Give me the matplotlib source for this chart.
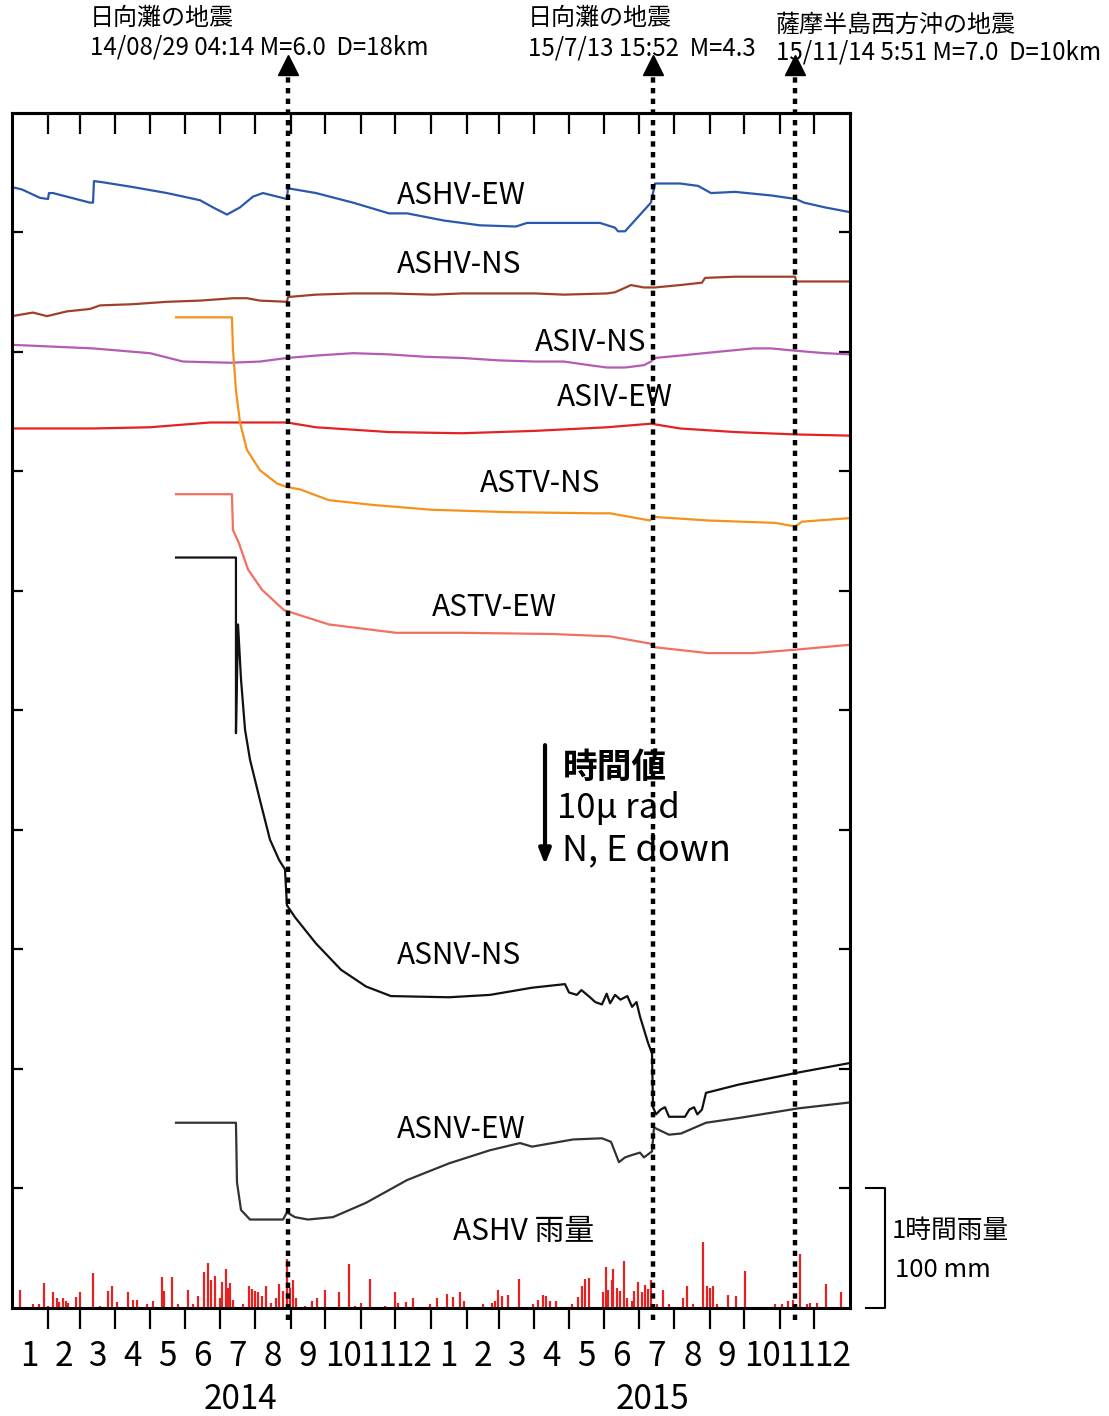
import numpy as np
import matplotlib
matplotlib.use("Agg")
import matplotlib.pyplot as plt

plt.rcParams['font.family'] = ['Noto Sans CJK JP', 'DejaVu Sans']

# x: days since 2014-01-01, y: tilt in micro-rad (offset per trace)
MONTH_DAYS = [31, 28, 31, 30, 31, 30, 31, 31, 30, 31, 30, 31] * 2
MONTH_LABELS = [str(m) for m in range(1, 13)] * 2
YEARS = ["2014", "2015"]
YEAR_DAYS = [198.6, 557.5]

QUAKE_DAYS = [240.2, 558.7, 682.2]
QUAKE_TITLES = ["日向灘の地震", "日向灘の地震", "薩摩半島西方沖の地震"]
QUAKE_INFO = ["14/08/29 04:14 M=6.0  D=18km",
              "15/7/13 15:52  M=4.3",
              "15/11/14 5:51 M=7.0  D=10km"]

ashv_ew_d = [0, 8.7, 24.4, 31.4, 32.2, 35.7, 67.9, 70.6, 71.4, 79.3, 105.4, 135.0, 163.8, 175.1, 187.3,
             198.6, 209.9, 218.6, 239.5, 240.4, 264.8, 297.0, 328.4, 344.1, 376.3, 407.7, 439.0, 448.6,
             486.9, 512.2, 525.3, 527.9, 534.0, 556.6, 560.1, 581.9, 597.6, 608.9, 629.8, 661.2, 683.0,
             689.9, 708.2, 730]
ashv_ew_v = [93.8, 93.6, 92.9, 92.8, 93.3, 93.3, 92.5, 92.5, 94.3, 94.2, 93.8, 93.3, 92.7, 92.1, 91.5,
             92.1, 93.0, 93.3, 92.8, 93.7, 93.3, 92.5, 91.6, 91.6, 91.0, 90.6, 90.5, 90.8,
             90.8, 90.8, 90.4, 90.1, 90.1, 92.5, 94.1, 94.1, 93.9, 93.3, 93.4, 93.1, 92.8,
             92.5, 92.1, 91.7]

ashv_ns_d = [0, 18.3, 30.5, 47.9, 67.9, 76.7, 105.4, 135.0, 163.8, 192.5, 204.7, 216.0, 239.5, 240.4,
             264.8, 297.0, 328.4, 366.7, 392.0, 423.4, 455.6, 480.8, 518.3, 525.3, 539.2, 550.5, 560.1,
             581.9, 601.0, 603.7, 629.8, 661.2, 682.1, 683.0, 708.2, 730]
ashv_ns_v = [83.0, 83.3, 83.0, 83.4, 83.6, 83.9, 84.0, 84.2, 84.3, 84.5, 84.5, 84.3, 84.2, 84.6,
             84.8, 84.9, 84.9, 84.8, 84.9, 84.9, 84.9, 84.8, 84.9, 85.0, 85.6, 85.4, 85.4,
             85.6, 85.8, 86.2, 86.3, 86.3, 86.3, 85.9, 85.9, 85.9]

asiv_ns_d = [0, 70.6, 120.2, 149.0, 189.9, 216.0, 239.5, 264.8, 297.0, 328.4, 359.8, 392.0, 423.4, 455.6,
             480.8, 502.6, 518.3, 534.0, 550.5, 556.6, 560.1, 581.9, 613.2, 645.5, 661.2, 683.0, 708.2, 730]
asiv_ns_v = [80.6, 80.3, 79.9, 79.2, 79.1, 79.2, 79.5, 79.7, 79.9, 79.8, 79.6, 79.5, 79.3, 79.2,
             79.2, 78.9, 78.7, 78.7, 78.9, 79.2, 79.5, 79.7, 80.0, 80.3, 80.3, 80.1, 79.9, 79.8]

asiv_ew_d = [0, 70.6, 120.2, 172.5, 198.6, 239.5, 264.8, 328.4, 392.0, 455.6, 518.3, 556.6, 581.9,
             629.8, 683.0, 730]
asiv_ew_v = [73.6, 73.6, 73.7, 74.1, 74.1, 74.1, 73.7, 73.3, 73.2, 73.4, 73.7, 74.0, 73.6,
             73.3, 73.1, 73.0]

astv_ns_d = [142.9, 191.6, 192.5, 195.1, 198.6, 204.7, 216.0, 230.8, 239.5, 250.9, 276.1, 314.5, 365.0,
             431.2, 508.7, 520.9, 555.7, 559.2, 606.3, 664.6, 682.1, 688.2, 730]
astv_ns_v = [82.9, 82.9, 80.2, 76.8, 74.1, 71.8, 70.1, 69.0, 68.7, 68.5, 67.6, 67.2, 66.8,
             66.6, 66.5, 66.5, 65.9, 66.2, 65.9, 65.7, 65.4, 65.8, 66.1]

astv_ew_d = [142.9, 191.6, 192.5, 197.7, 205.6, 217.8, 236.9, 276.1, 334.5, 392.0, 470.4, 520.9, 555.7,
             559.2, 606.3, 645.5, 683.8, 730]
astv_ew_v = [68.1, 68.1, 65.1, 64.0, 61.8, 60.1, 58.4, 57.2, 56.5, 56.5, 56.4, 56.2, 55.6,
             55.3, 54.8, 54.8, 55.1, 55.5]

asnv_ns_d = [142.9, 195.1, 195.1, 196.9, 199.5, 203.0, 207.3, 216.0, 224.7, 232.6, 237.8, 239.5, 246.5,
             264.8, 286.6, 308.4, 330.1, 380.7, 416.4, 453.0, 481.7, 485.2, 492.0, 496.0, 503.5, 508.0,
             513.9, 518.0, 521.0, 525.3, 530.0, 536.0, 540.1, 544.0, 547.0, 554.0, 557.5, 558.4, 561.0,
             565.0, 568.8, 572.3, 586.2, 590.0, 594.1, 597.0, 601.0, 604.5, 633.3, 684.7, 730]
asnv_ns_v = [62.8, 62.8, 48.1, 57.2, 52.6, 48.4, 45.9, 42.5, 39.2, 37.5, 36.7, 33.7, 32.7,
             30.5, 28.3, 26.9, 26.1, 26.0, 26.2, 26.8, 27.1, 26.4, 26.2, 26.6, 26.0, 25.6,
             25.4, 26.3, 25.5, 26.2, 25.8, 26.1, 25.2, 25.6, 24.4, 22.2, 21.3, 16.8, 16.2,
             16.6, 16.8, 16.0, 16.0, 16.6, 16.8, 16.2, 16.6, 18.0, 18.7, 19.7, 20.5]

asnv_ew_d = [142.9, 195.1, 196.0, 199.5, 207.3, 236.1, 239.5, 246.5, 257.8, 279.6, 308.4, 344.1, 380.7,
             416.4, 442.5, 453.0, 488.7, 513.9, 521.8, 528.7, 534.0, 540.1, 547.0, 550.5, 557.5, 559.2,
             572.3, 582.8, 604.5, 633.3, 684.7, 730]
asnv_ew_v = [15.5, 15.5, 10.5, 8.2, 7.4, 7.4, 8.0, 7.6, 7.4, 7.6, 8.8, 10.7, 12.1,
             13.2, 13.8, 13.5, 14.1, 14.2, 13.9, 12.2, 12.6, 12.8, 13.0, 12.6, 13.1, 15.1,
             14.5, 14.6, 15.5, 15.9, 16.7, 17.2]

# hourly rainfall (mm)
rain_d = [7.0, 18.3, 23.5, 27.9, 31.4, 35.7, 39.2, 40.9, 44.4, 47.0, 48.8, 55.7, 59.2, 70.6, 76.7, 83.6,
          87.1, 91.5, 101.0, 105.4, 108.9, 117.6, 122.8, 130.7, 132.4, 139.4, 144.6, 153.3, 157.7, 162.0,
          167.2, 170.7, 173.3, 176.8, 181.2, 182.9, 186.4, 188.2, 189.9, 192.5, 201.2, 206.4, 209.1, 211.7,
          214.3, 217.8, 221.3, 225.6, 230.0, 232.6, 236.1, 239.5, 242.2, 244.8, 247.4, 255.2, 261.3, 265.7,
          272.6, 284.8, 293.6, 298.8, 304.0, 311.8, 324.9, 333.6, 336.2, 343.2, 349.3, 364.1, 370.2, 378.9,
          384.1, 390.2, 393.7, 410.3, 418.1, 420.7, 423.3, 426.8, 432.1, 441.6, 453.8, 458.2, 462.5, 465.2,
          468.6, 473.9, 487.8, 493.0, 496.5, 499.1, 502.6, 514.8, 517.4, 519.2, 522.6, 523.5, 527.0, 529.6,
          533.1, 535.7, 540.1, 541.8, 545.3, 548.8, 551.4, 554.0, 556.6, 561.8, 567.1, 572.3, 584.5, 588.0,
          593.2, 601.9, 605.4, 608.0, 610.6, 614.1, 623.7, 630.7, 638.5, 649.0, 664.6, 670.7, 676.0, 680.3,
          686.4, 692.5, 695.1, 701.2, 709.1, 715.2, 722.1]
rain_mm = [15, 3, 3, 21, 2, 13, 8, 5, 8, 6, 4, 9, 13, 29, 2, 14,
           18, 5, 13, 7, 7, 3, 6, 26, 14, 26, 3, 15, 3, 10,
           30, 38, 23, 27, 8, 22, 33, 17, 21, 7, 3, 18, 16, 14,
           13, 10, 18, 4, 8, 20, 14, 41, 17, 23, 8, 2, 6, 8,
           15, 13, 37, 2, 4, 24, 2, 13, 4, 5, 8, 3, 8, 12,
           9, 13, 6, 3, 4, 6, 15, 10, 11, 24, 3, 7, 11, 10,
           6, 6, 3, 9, 18, 24, 25, 13, 34, 15, 23, 33, 17, 14,
           39, 8, 6, 14, 22, 13, 19, 16, 23, 3, 15, 3, 8, 18,
           3, 55, 18, 17, 18, 3, 11, 10, 31, 1, 3, 3, 6, 7,
           45, 3, 4, 4, 20, 1, 13]

series = [
    ("ASHV-EW", ashv_ew_d, ashv_ew_v, "#2a58b0", (335.4, 93.1)),
    ("ASHV-NS", ashv_ns_d, ashv_ns_v, "#a0402c", (335.4, 87.3)),
    ("ASIV-NS", asiv_ns_d, asiv_ns_v, "#b45cb4", (455.6, 80.8)),
    ("ASIV-EW", asiv_ew_d, asiv_ew_v, "#e42222", (474.7, 76.2)),
    ("ASTV-NS", astv_ns_d, astv_ns_v, "#f5921e", (407.7, 69.0)),
    ("ASTV-EW", astv_ew_d, astv_ew_v, "#f27060", (365.9, 58.6)),
    ("ASNV-NS", asnv_ns_d, asnv_ns_v, "#111111", (335.4, 29.5)),
    ("ASNV-EW", asnv_ew_d, asnv_ew_v, "#333333", (335.4, 14.9)),
]

fig = plt.figure(figsize=(11.09, 14.16), dpi=100)
ax = fig.add_axes([0.0108, 0.0763, 0.7557, 0.8439])
rax = ax.twinx()
ax.set_zorder(rax.get_zorder() + 1)
ax.patch.set_visible(False)

bounds = np.concatenate([[0], np.cumsum(MONTH_DAYS)])
mids = (bounds[:-1] + bounds[1:]) / 2

# rain
rax.vlines(rain_d, 0, rain_mm, color="#e42222", lw=1.6)
rax.set_ylim(0, 1000)
rax.set_yticks([])
for s in rax.spines.values():
    s.set_visible(False)

for name, d, v, c, (tx, ty) in series:
    ax.plot(d, v, color=c, lw=1.6)
    ax.text(tx, ty, name, fontsize=21.5, va="center", ha="left")

ax.text(384.2, 6.4, "ASHV 雨量", fontsize=21.5, va="center", ha="left")

# earthquakes
for qd in QUAKE_DAYS:
    ax.plot([qd, qd], [-1, 103.3], color="k", lw=3.2, ls=(0, (1.2, 1.2)), clip_on=False, zorder=5)
    ax.plot(qd, 104.0, marker="^", ms=14, color="k", clip_on=False, zorder=5)
tx = [67.9, 449.5, 665.5]
ty = [(107.95, 105.5), (107.95, 105.4), (107.4, 105.1)]
for x, (y1, y2), title, info in zip(tx, ty, QUAKE_TITLES, QUAKE_INFO):
    ax.text(x, y1, title, fontsize=17.3, va="center", ha="left", clip_on=False)
    ax.text(x, y2, info, fontsize=17.3, va="center", ha="left", clip_on=False)

# scale arrow
ax.annotate("", xy=(464.3, 37.1), xytext=(464.3, 47.1),
            arrowprops=dict(arrowstyle="-|>,head_length=0.9,head_width=0.35", lw=3, color="k",
                            shrinkA=0, shrinkB=0))
ax.text(479.5, 45.2, "時間値", fontsize=25, va="center", ha="left", fontweight="bold")
ax.text(474.7, 41.8, "10μ rad", fontsize=25, va="center", ha="left")
ax.text(479.0, 38.3, "N, E down", fontsize=26, va="center", ha="left")

# rain scale bracket
ax.plot([744, 760.5, 760.5, 744], [10, 10, 0, 0], color="k", lw=1.5, clip_on=False)
ax.text(766.6, 6.4, "1時間雨量", fontsize=18.5, va="center", ha="left")
ax.text(769.2, 3.2, "100 mm", fontsize=18.5, va="center", ha="left")

ax.set_xlim(0, 730)
ax.set_ylim(0, 100)
ax.set_xticks(bounds[1:-1])
ax.set_xticklabels([])
ax.set_xticks(mids, minor=True)
ax.set_xticklabels(MONTH_LABELS, minor=True)
ax.tick_params(axis="x", which="major", direction="out", length=15, width=1.6, top=False)
ax.tick_params(axis="x", which="minor", length=0, pad=22, labelsize=24)
ax.set_yticks(np.arange(10, 100, 10))
ax.tick_params(axis="y", direction="in", length=8, width=1.6, left=True, right=True,
               labelleft=False)
for s in ax.spines.values():
    s.set_linewidth(2.2)

top = ax.secondary_xaxis("top")
top.set_xticks(bounds[1:-1])
top.set_xticklabels([])
top.tick_params(direction="in", length=15, width=1.6)
top.xaxis.set_minor_locator(matplotlib.ticker.NullLocator())
top.spines["top"].set_linewidth(2.2)

for yr, yd in zip(YEARS, YEAR_DAYS):
    ax.text(yd, -0.0765, yr, fontsize=24, ha="center", va="center",
            transform=ax.get_xaxis_transform())

fig.savefig("out.png", dpi=100)
